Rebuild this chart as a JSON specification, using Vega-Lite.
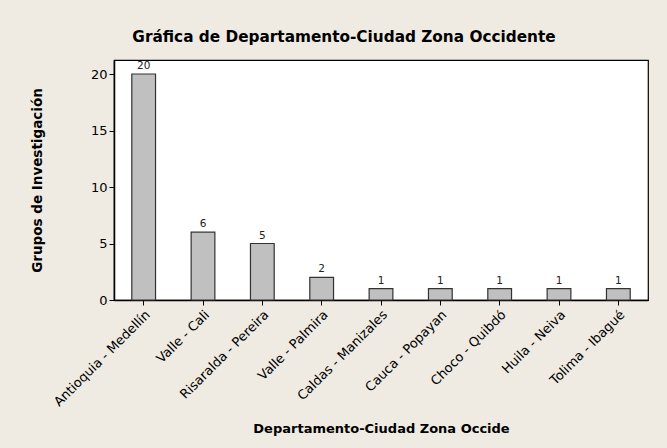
{
  "$schema": "https://vega.github.io/schema/vega-lite/v6.json",
  "autosize": {"type": "none"},
  "width": 534,
  "height": 240,
  "padding": {"left": 114, "top": 60, "right": 19, "bottom": 148},
  "background": "#efebe3",
  "data": {"values": [
    {"ciudad": "Antioquia - Medellín", "grupos": 20},
    {"ciudad": "Valle - Cali", "grupos": 6},
    {"ciudad": "Risaralda - Pereira", "grupos": 5},
    {"ciudad": "Valle - Palmira", "grupos": 2},
    {"ciudad": "Caldas - Manizales", "grupos": 1},
    {"ciudad": "Cauca - Popayan", "grupos": 1},
    {"ciudad": "Choco - Quibdó", "grupos": 1},
    {"ciudad": "Huila - Neiva", "grupos": 1},
    {"ciudad": "Tolima - Ibagué", "grupos": 1}
  ]},
  "title": {
    "text": "Gráfica de Departamento-Ciudad Zona Occidente",
    "font": "DejaVu Sans",
    "fontSize": 15.3,
    "fontWeight": "bold",
    "color": "#000",
    "anchor": "middle",
    "dx": -37,
    "offset": 15
  },
  "encoding": {
    "x": {
      "field": "ciudad",
      "type": "nominal",
      "sort": null,
      "scale": {"paddingInner": 0.6, "paddingOuter": 0.3},
      "axis": {
        "title": "Departamento-Ciudad Zona Occide",
        "titleFont": "DejaVu Sans",
        "titleFontSize": 13,
        "titleFontWeight": "bold",
        "titleColor": "#000",
        "titlePadding": 14,
        "labelAngle": -45,
        "labelFont": "DejaVu Sans",
        "labelFontSize": 13,
        "labelColor": "#000",
        "labelPadding": 3,
        "tickColor": "#000",
        "tickSize": 5,
        "domainColor": "#000",
        "domainWidth": 1.5
      }
    },
    "y": {
      "field": "grupos",
      "type": "quantitative",
      "scale": {"domain": [0, 21.24], "nice": false},
      "axis": {
        "title": "Grupos de Investigación",
        "titleFont": "DejaVu Sans",
        "titleFontSize": 13.5,
        "titleFontWeight": "bold",
        "titleColor": "#000",
        "titlePadding": 46,
        "values": [0, 5, 10, 15, 20],
        "grid": false,
        "labelFont": "DejaVu Sans",
        "labelFontSize": 13,
        "labelColor": "#000",
        "tickColor": "#000",
        "tickSize": 5,
        "domainColor": "#000",
        "domainWidth": 1.5
      }
    }
  },
  "layer": [
    {"mark": {"type": "bar", "fill": "#c0c0c0", "stroke": "#333333", "strokeWidth": 1.2}},
    {
      "mark": {"type": "text", "baseline": "bottom", "dy": -3, "font": "DejaVu Sans", "fontSize": 10.5, "color": "#222"},
      "encoding": {"text": {"field": "grupos", "type": "quantitative"}}
    }
  ],
  "config": {
    "view": {"fill": "#ffffff", "stroke": "#000000", "strokeWidth": 1.2}
  }
}
